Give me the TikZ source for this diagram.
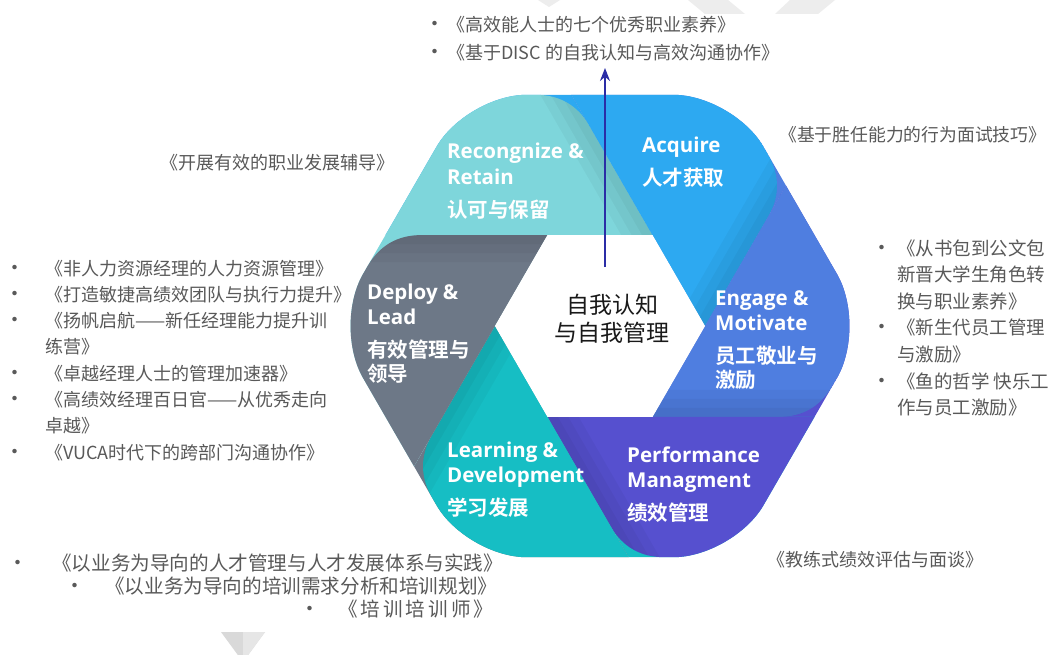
\documentclass[tikz,border=0pt]{standalone}
\usepackage{fontspec}
\setmainfont{Noto Sans CJK SC}[BoldFont={Noto Sans CJK SC Bold}]
\newfontfamily\labfont{Open Sans}[BoldFont={Open Sans Bold}]
\usetikzlibrary{arrows.meta,calc}
\definecolor{cRec}{HTML}{7ED6DB}
\definecolor{cAcq}{HTML}{2DA9F1}
\definecolor{cEng}{HTML}{4F7EE0}
\definecolor{cPer}{HTML}{5650CF}
\definecolor{cLrn}{HTML}{16BEC4}
\definecolor{cDep}{HTML}{6D7887}
\definecolor{arrowc}{HTML}{2B2DA6}
\definecolor{listgray}{HTML}{595959}
\definecolor{decogray}{HTML}{EDEDED}
\definecolor{trigA}{HTML}{D9D9D9}
\definecolor{trigB}{HTML}{E6E6E6}
\newcommand\lbul[2]{\makebox[#2pt][l]{\hspace*{#1pt}\makebox[0pt]{\raisebox{0pt}{\fontsize{21}{21}\selectfont •}}}}
\def\sharppath{(652.5,235.07) -- (280,235.07) -- (340,60) -- (551.4,60) -- cycle}
\def\bodypath{(652.5,235.07) -- (280,235.07) -- (340,60) -- (505,60) -- (505,94.8) -- (535.5,94.8) .. controls (559.5,94.8) and (577.5,105.2) .. (589.5,125.98) -- cycle}
\tikzset{
  listtxt/.style={font=\fontsize{18}{26.3}\selectfont, text=listgray, inner sep=0pt, anchor=base west},
  lab/.style={font=\fontsize{20.5}{25}\selectfont\bfseries, text=white, inner sep=0pt, anchor=base west},
}
\begin{document}
\begin{tikzpicture}[x=1pt,y=-1pt]
\useasboundingbox (0,0) rectangle (1051,655);
\fill[white] (0,0) rectangle (1051,655);
% faint decorations
\fill[decogray] (538,0) -- (560,0) -- (549,7) -- cycle;
\fill[decogray] (688,0) -- (728,0) -- (745,14) -- (705,14) -- cycle;
\fill[decogray] (790,0) -- (835,0) -- (818,14) -- (775,14) -- cycle;
\fill[trigA] (221,632) -- (265,632) -- (243,662) -- cycle;
\fill[trigB] (243,632) -- (265,632) -- (243,662) -- cycle;
% hexagon ring
\begin{scope}
\clip[rounded corners=60pt] (867,326) -- (733.5,557.2) -- (466.5,557.2) -- (333,326) -- (466.5,94.8) -- (733.5,94.8) -- cycle;
\foreach \k/\ca/\cb in {0/cRec/cAcq,1/cAcq/cEng,2/cEng/cPer,3/cPer/cLrn,4/cLrn/cDep,5/cDep/cRec}{
  \begin{scope}[rotate around={-60*\k:(600,326)}]
    \fill[\cb] \sharppath;
  \end{scope}
}
\foreach \k/\ca in {0/cRec,1/cAcq,2/cEng,3/cPer,4/cLrn,5/cDep}{
  \begin{scope}[rotate around={-60*\k:(600,326)}]
    \fill[\ca] \bodypath;
    \begin{scope}
      \clip \bodypath;
      \foreach \m in {1,2,3}{
        \fill[black,opacity=0.035] (667.5,261.05) -- (490.8,-45) -- ({490.8-7.8*\m},{-45+4.5*\m}) -- ({667.5-7.8*\m},{261.05+4.5*\m}) -- cycle;
      }
    \end{scope}
  \end{scope}
}
\end{scope}
\fill[white] (705,326) -- (652.5,416.93) -- (547.5,416.93) -- (495,326) -- (547.5,235.07) -- (652.5,235.07) -- cycle;
% arrow
\coordinate (arrbase) at (605,267);
\coordinate (arrtip) at (605,68);
\draw[arrowc, line width=2pt, -{Stealth[length=13pt,width=10pt]}] (arrbase) -- (arrtip);
% center text
\node[font=\fontsize{23}{27}\selectfont, text=black!90, inner sep=0pt, anchor=base] (ctr) at (612,313.7) {\begin{tabular}[t]{@{}c@{}}自我认知\\与自我管理\end{tabular}};
% labels
\node[lab] (lRec) at (447,159) {\begin{tabular}[t]{@{}l@{}}\labfont Recongnize \&\\ \labfont Retain\\[8pt] 认可与保留\end{tabular}};
\node[lab] (lAcq) at (642,153) {\begin{tabular}[t]{@{}l@{}}\labfont Acquire\\[8pt] 人才获取\end{tabular}};
\node[lab] (lDep) at (367,299) {\begin{tabular}[t]{@{}l@{}}\labfont Deploy \&\\ \labfont Lead\\[8pt] 有效管理与\\[-1pt] 领导\end{tabular}};
\node[lab] (lEng) at (715,305) {\begin{tabular}[t]{@{}l@{}}\labfont Engage \&\\ \labfont Motivate\\[8pt] 员工敬业与\\[-1pt] 激励\end{tabular}};
\node[lab] (lLrn) at (447,457) {\begin{tabular}[t]{@{}l@{}}\labfont Learning \&\\ \labfont Development\\[8pt] 学习发展\end{tabular}};
\node[lab] (lPer) at (627,462) {\begin{tabular}[t]{@{}l@{}}\labfont Performance\\ \labfont Managment\\[8pt] 绩效管理\end{tabular}};
% lists
\node[listtxt, font=\fontsize{18}{28}\selectfont] (topList) at (423,32) {\begin{tabular}[t]{@{}l@{}}\lbul{12}{24}《高效能人士的七个优秀职业素养》\\ \lbul{12}{24}《基于DISC 的自我认知与高效沟通协作》\end{tabular}};
\node[listtxt] (leftTitle) at (160,170) {《开展有效的职业发展辅导》};
\node[listtxt, font=\fontsize{17.8}{26.3}\selectfont] (rightTitle) at (779,142) {《基于胜任能力的行为面试技巧》};
\node[listtxt] (leftList) at (0,275) {\begin{tabular}[t]{@{}l@{}}
\lbul{15}{45}《非人力资源经理的人力资源管理》\\
\lbul{15}{45}《打造敏捷高绩效团队与执行力提升》\\
\lbul{15}{45}《扬帆启航——新任经理能力提升训\\
\hspace*{45pt}练营》\\
\lbul{15}{45}《卓越经理人士的管理加速器》\\
\lbul{15}{45}《高绩效经理百日官——从优秀走向\\
\hspace*{45pt}卓越》\\
\lbul{15}{45}《VUCA时代下的跨部门沟通协作》
\end{tabular}};
\node[listtxt, font=\fontsize{18.5}{26.6}\selectfont] (rightList) at (870,255) {\begin{tabular}[t]{@{}l@{}}
\lbul{12}{27}《从书包到公文包\\
\hspace*{27pt}新晋大学生角色转\\
\hspace*{27pt}换与职业素养》\\
\lbul{12}{27}《新生代员工管理\\
\hspace*{27pt}与激励》\\
\lbul{12}{27}《鱼的哲学 快乐工\\
\hspace*{27pt}作与员工激励》
\end{tabular}};
\node[listtxt, font=\fontsize{19.6}{22.5}\selectfont] (bottomList) at (0,570) {\begin{tabular}[t]{@{}l@{}}
\lbul{18}{52}《以业务为导向的人才管理与人才发展体系与实践》\\
\lbul{75}{105}《以业务为导向的培训需求分析和培训规划》\\
\lbul{310}{338}《\kern3pt 培\kern3pt 训\kern3pt 培\kern3pt 训\kern3pt 师\kern3pt》
\end{tabular}};
\node[listtxt] (rightBottom) at (767.5,566) {《教练式绩效评估与面谈》};
\end{tikzpicture}
\end{document}
